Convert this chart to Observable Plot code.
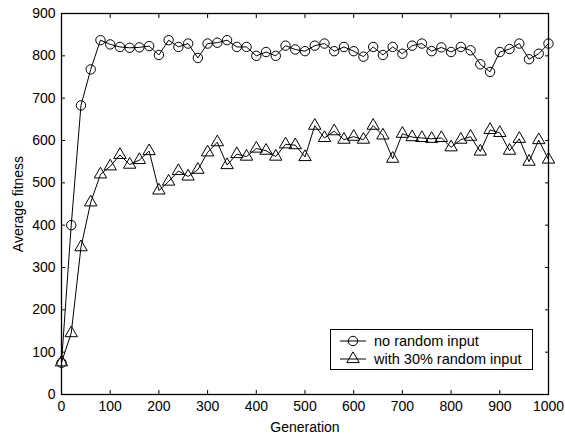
<!DOCTYPE html>
<html>
<head>
<meta charset="utf-8">
<script src="https://cdn.jsdelivr.net/npm/d3@7"></script>
<script src="https://cdn.jsdelivr.net/npm/@observablehq/plot@0.6"></script>
<style>
  html, body { margin: 0; padding: 0; background: white; }
  #wrap { position: relative; width: 565px; height: 437px; font-family: "Liberation Sans", Arial, sans-serif; }
  #legend { position: absolute; }
</style>
</head>
<body>
<div id="wrap"></div>
<script>
const generation = [0,20,40,60,80,100,120,140,160,180,200,220,240,260,280,300,320,340,360,380,400,420,440,460,480,500,520,540,560,580,600,620,640,660,680,700,720,740,760,780,800,820,840,860,880,900,920,940,960,980,1000];
const noRandom = [75,400,683,768,837,827,821,819,820,823,802,837,821,829,795,829,831,837,821,821,800,809,800,824,815,811,824,829,811,821,811,798,821,802,821,805,824,829,811,820,809,821,813,780,762,809,816,829,792,805,829];
const withRandom = [76,145,348,454,520,539,566,543,554,575,482,503,528,515,531,572,596,542,568,562,581,576,562,591,589,561,635,606,622,602,609,602,635,612,557,616,608,606,604,606,584,602,609,574,625,618,576,604,550,601,555];
const seriesNames = ["no random input", "with 30% random input"];
const xTicks = [0,100,200,300,400,500,600,700,800,900,1000];
const yTicks = [0,100,200,300,400,500,600,700,800,900];

const rowsA = generation.map((g, i) => ({gen: g, fit: noRandom[i]}));
const rowsB = generation.map((g, i) => ({gen: g, fit: withRandom[i]}));

const font = "Liberation Sans, Arial, Helvetica, sans-serif";
const fs = 14;

const chart = Plot.plot({
  width: 565,
  height: 437,
  marginLeft: 61,
  marginRight: 17,
  marginTop: 13,
  marginBottom: 43,
  x: {domain: [0, 1000]},
  y: {domain: [0, 900]},
  style: {fontFamily: font, fontSize: fs + "px", color: "black", background: "white"},
  marks: [
    Plot.axisX(xTicks, {tickSize: 4, dy: -4, tickFormat: () => "", label: null, stroke: "black"}),
    Plot.axisX(xTicks, {anchor: "top", tickSize: 4, dy: 4, tickFormat: () => "", label: null, stroke: "black"}),
    Plot.axisY(yTicks, {tickSize: 4, dx: 4, tickFormat: () => "", label: null, stroke: "black"}),
    Plot.axisY(yTicks, {anchor: "right", tickSize: 4, dx: -4, tickFormat: () => "", label: null, stroke: "black"}),
    Plot.axisX(xTicks, {tickSize: 0, tickPadding: 7, tickFormat: d => String(d), label: "Generation", labelAnchor: "center", labelArrow: false, labelOffset: 37, fill: "black"}),
    Plot.axisY(yTicks, {tickSize: 0, tickPadding: 6, tickFormat: d => String(d), label: "Average fitness", labelAnchor: "center", labelArrow: false, labelOffset: 48, fill: "black"}),
    Plot.line(rowsA, {x: "gen", y: "fit", stroke: "black", strokeWidth: 1}),
    Plot.dot(rowsA, {x: "gen", y: "fit", symbol: "circle", r: 4.7, stroke: "black", fill: "none", strokeWidth: 1}),
    Plot.line(rowsB, {x: "gen", y: "fit", stroke: "black", strokeWidth: 1}),
    Plot.dot(rowsB, {x: "gen", y: "fit", symbol: "triangle", r: 4.6, stroke: "black", fill: "none", strokeWidth: 1}),
    Plot.frame({stroke: "black", strokeWidth: 1.3})
  ]
});

const wrap = document.getElementById("wrap");
wrap.appendChild(chart);

// Legend (HTML-positioned SVG overlay)
const lw = 203, lh = 41;
const legend = d3.create("svg")
  .attr("id", "legend")
  .attr("width", lw).attr("height", lh)
  .style("left", "330px").style("top", "329px");
legend.append("rect").attr("x", 0.5).attr("y", 0.5).attr("width", lw - 1).attr("height", lh - 1)
  .attr("fill", "white").attr("stroke", "black").attr("stroke-width", 1);
const symbols = [d3.symbolCircle, d3.symbolTriangle];
const sizes = [Math.PI * 4.7 * 4.7, Math.PI * 4.6 * 4.6];
seriesNames.forEach((name, i) => {
  const cy = 12 + i * 18;
  legend.append("line").attr("x1", 10).attr("x2", 36).attr("y1", cy).attr("y2", cy)
    .attr("stroke", "black").attr("stroke-width", 1);
  legend.append("path").attr("transform", `translate(23,${cy})`)
    .attr("d", d3.symbol(symbols[i], sizes[i])())
    .attr("fill", "none").attr("stroke", "black").attr("stroke-width", 1);
  legend.append("text").attr("x", 44).attr("y", cy).attr("dy", "0.35em")
    .attr("font-family", font).attr("font-size", 14.5).attr("fill", "black").text(name);
});
wrap.appendChild(legend.node());
</script>
</body>
</html>
